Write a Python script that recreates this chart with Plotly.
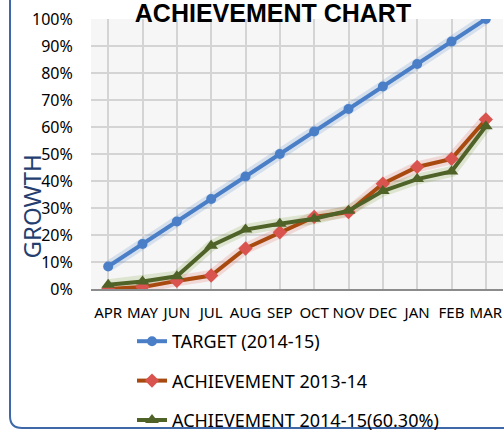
import plotly.graph_objects as go

months = ["APR", "MAY", "JUN", "JUL", "AUG", "SEP", "OCT", "NOV", "DEC", "JAN", "FEB", "MAR"]
target_2014_15 = [8.33, 16.67, 25.0, 33.33, 41.67, 50.0, 58.33, 66.67, 75.0, 83.33, 91.67, 100.0]
achievement_2013_14 = [0.0, 0.7, 3.0, 5.0, 15.0, 21.0, 26.7, 28.5, 39.0, 45.2, 48.2, 62.8]
achievement_2014_15 = [1.6, 2.8, 4.7, 16.0, 22.0, 24.2, 26.0, 29.0, 36.3, 40.7, 43.5, 60.3]

series = [
    ("TARGET (2014-15)", target_2014_15, "#4A7FC7", "#4A7FC7", "circle", 10, "rgba(74,127,199,0.18)"),
    ("ACHIEVEMENT 2013-14", achievement_2013_14, "#A84A10", "#D9534F", "diamond", 11, "rgba(217,83,79,0.18)"),
    ("ACHIEVEMENT 2014-15(60.30%)", achievement_2014_15, "#4F6228", "#4F6228", "triangle-up", 12, "rgba(110,150,40,0.18)"),
]

font_family = "Noto Sans, Open Sans, sans-serif"

fig = go.Figure()
# soft glow underneath each line
for name, vals, lc, mc, sym, ms, glow in series:
    fig.add_trace(go.Scatter(
        x=months, y=[v / 100 for v in vals], mode="lines",
        line=dict(color=glow, width=11), hoverinfo="skip", showlegend=False,
    ))
for i, (name, vals, lc, mc, sym, ms, glow) in enumerate(series):
    fig.add_trace(go.Scatter(
        x=months, y=[v / 100 for v in vals], name=name, mode="lines+markers",
        line=dict(color=lc, width=4),
        marker=dict(symbol=sym, size=ms, color=mc, line=dict(width=0)),
        legendgroup=f"g{i}",
    ))

# pixel geometry helpers for the outer rounded frame
L, R, T, B = 91, 503, 19, 289
W_, H_ = R - L, B - T
def px(x):
    return (x - L) / W_
def py(y):
    return (B - y) / H_

r = 12
x0, yb = 10, 428
path = (f"M {px(x0)},{py(-5)} L {px(x0)},{py(yb - r)} "
        f"Q {px(x0)},{py(yb)} {px(x0 + r)},{py(yb)} L {px(510)},{py(yb)}")

fig.update_layout(
    width=504, height=432,
    margin=dict(l=L, r=504 - R, t=T, b=432 - B, autoexpand=False),
    paper_bgcolor="white",
    plot_bgcolor="#f6f6f6",
    font=dict(family=font_family, size=14, color="#000000"),
    title=dict(text="<b>ACHIEVEMENT CHART</b>", x=(273) / 504, xanchor="center",
               y=1 - 13 / 432, yanchor="middle",
               font=dict(family="Liberation Sans, Arial, sans-serif", size=25, color="#000000")),
    showlegend=True,
    legend=dict(x=px(132), xanchor="left", y=py(323), yanchor="top",
                font=dict(size=18, family=font_family), tracegroupgap=13,
                bgcolor="rgba(0,0,0,0)", itemwidth=30),
    shapes=[dict(type="path", xref="paper", yref="paper", path=path,
                 line=dict(color="#3F68A8", width=2), layer="above")],
    annotations=[dict(text="GROWTH", textangle=-90, xref="paper", yref="paper",
                      x=px(30.5), y=py(207), xanchor="center", yanchor="middle",
                      showarrow=False, font=dict(size=24, color="#243F6F", family=font_family))],
)
fig.update_xaxes(
    type="category", range=[-0.5, 11.5], showgrid=True, gridcolor="#d4d4d4", gridwidth=1.5,
    showline=True, linecolor="#8c8c8c", linewidth=2, ticks="outside", ticklen=9,
    tickcolor="rgba(0,0,0,0)", tickfont=dict(size=15), zeroline=False, automargin=False,
)
fig.update_yaxes(
    range=[0, 1.0], dtick=0.1, tickformat=".0%", showgrid=True, gridcolor="#d4d4d4",
    gridwidth=1.5, ticks="outside", ticklen=14, tickcolor="rgba(0,0,0,0)",
    tickfont=dict(size=16), zeroline=False, showline=False, automargin=False,
)

fig.write_html("out.html", config={"displayModeBar": False},
               post_script="document.body.style.margin='0';document.body.style.overflow='hidden';")
